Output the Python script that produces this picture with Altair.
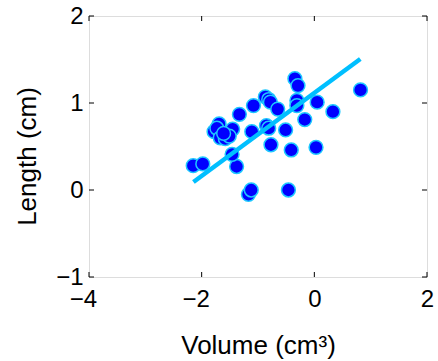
import altair as alt
import pandas as pd

# Scatter data (Volume, Length)
vol = [-2.15, -1.98, -1.38, -1.46, -1.17, -1.12, -0.46, -1.11, -1.33, -1.08,
       -0.87, -0.81, -0.78, -0.65, -0.85, -0.81, -0.77, -0.51, -0.41, -0.345,
       -0.29, -0.31, -0.31, -0.17, 0.05, 0.33, 0.03, 0.82,
       -1.78, -1.69, -1.73, -1.45, -1.67, -1.58, -1.51, -1.61]
length = [0.28, 0.30, 0.27, 0.41, -0.05, 0.00, 0.00, 0.67, 0.87, 0.97,
          1.07, 1.04, 1.01, 0.93, 0.74, 0.71, 0.52, 0.69, 0.46, 1.28,
          1.20, 1.03, 0.97, 0.81, 1.01, 0.90, 0.49, 1.15,
          0.67, 0.76, 0.71, 0.70, 0.60, 0.59, 0.62, 0.65]

# Regression line endpoints
line_x = [-2.146, 0.816]
line_y = [0.092, 1.506]

x_ticks = [-4, -2, 0, 2]
y_ticks = [-1, 0, 1, 2]

W, H = 338, 261
TICK = 5
FONT = "Liberation Sans"

pts = pd.DataFrame({"v": vol, "l": length})
ln = pd.DataFrame({"v": line_x, "l": line_y})
xt = pd.DataFrame({"t": x_ticks})
yt = pd.DataFrame({"t": y_ticks})

xs = alt.Scale(domain=[-4, 2], nice=False, zero=False)
ys = alt.Scale(domain=[-1, 2], nice=False, zero=False)

xaxis = alt.Axis(values=x_ticks, title="Volume (cm³)", grid=False, domain=False,
                 ticks=False, labelFontSize=24, labelPadding=10, labelFlush=False,
                 labelOverlap=False, labelColor="black",
                 labelOffset=alt.ExprRef("datum.value < 0 ? -6 : 0"),
                 titleFontSize=26, titleFontWeight="normal", titlePadding=21,
                 titleColor="black", labelFont=FONT, titleFont=FONT, format="d")
yaxis = alt.Axis(values=y_ticks, title="Length (cm)", grid=False, domain=False,
                 ticks=False, labelFontSize=24, labelPadding=6, labelFlush=False,
                 labelOverlap=False, labelColor="black",
                 titleFontSize=26, titleFontWeight="normal", titlePadding=15,
                 titleY=140,
                 titleColor="black", labelFont=FONT, titleFont=FONT, format="d")

base_pts = alt.Chart(pts).mark_circle(
    size=190, color="#0000FF", stroke="#1EC8FF", strokeWidth=1.5, opacity=1
).encode(
    x=alt.X("v:Q", scale=xs, axis=xaxis),
    y=alt.Y("l:Q", scale=ys, axis=yaxis),
)

line = alt.Chart(ln).mark_line(color="#00BFFF", strokeWidth=4.5).encode(
    x=alt.X("v:Q", scale=xs),
    y=alt.Y("l:Q", scale=ys),
)

xt_bot = alt.Chart(xt).mark_rule(color="black", strokeWidth=1).encode(
    x=alt.X("t:Q", scale=xs), y=alt.value(H), y2=alt.value(H - TICK))
xt_top = alt.Chart(xt).mark_rule(color="black", strokeWidth=1).encode(
    x=alt.X("t:Q", scale=xs), y=alt.value(0), y2=alt.value(TICK))
yt_left = alt.Chart(yt).mark_rule(color="black", strokeWidth=1).encode(
    y=alt.Y("t:Q", scale=ys), x=alt.value(0), x2=alt.value(TICK))
yt_right = alt.Chart(yt).mark_rule(color="black", strokeWidth=1).encode(
    y=alt.Y("t:Q", scale=ys), x=alt.value(W), x2=alt.value(W - TICK))

chart = alt.layer(base_pts, line, xt_bot, xt_top, yt_left, yt_right).properties(
    width=W, height=H,
    autosize=alt.AutoSizeParams(type="none"),
    padding={"left": 89, "top": 16, "right": 11, "bottom": 84},
).configure_view(stroke="black", strokeWidth=1.5, fill="white").configure(
    background="white"
)

chart.save("out.html", embed_options={"renderer": "svg", "actions": False})
